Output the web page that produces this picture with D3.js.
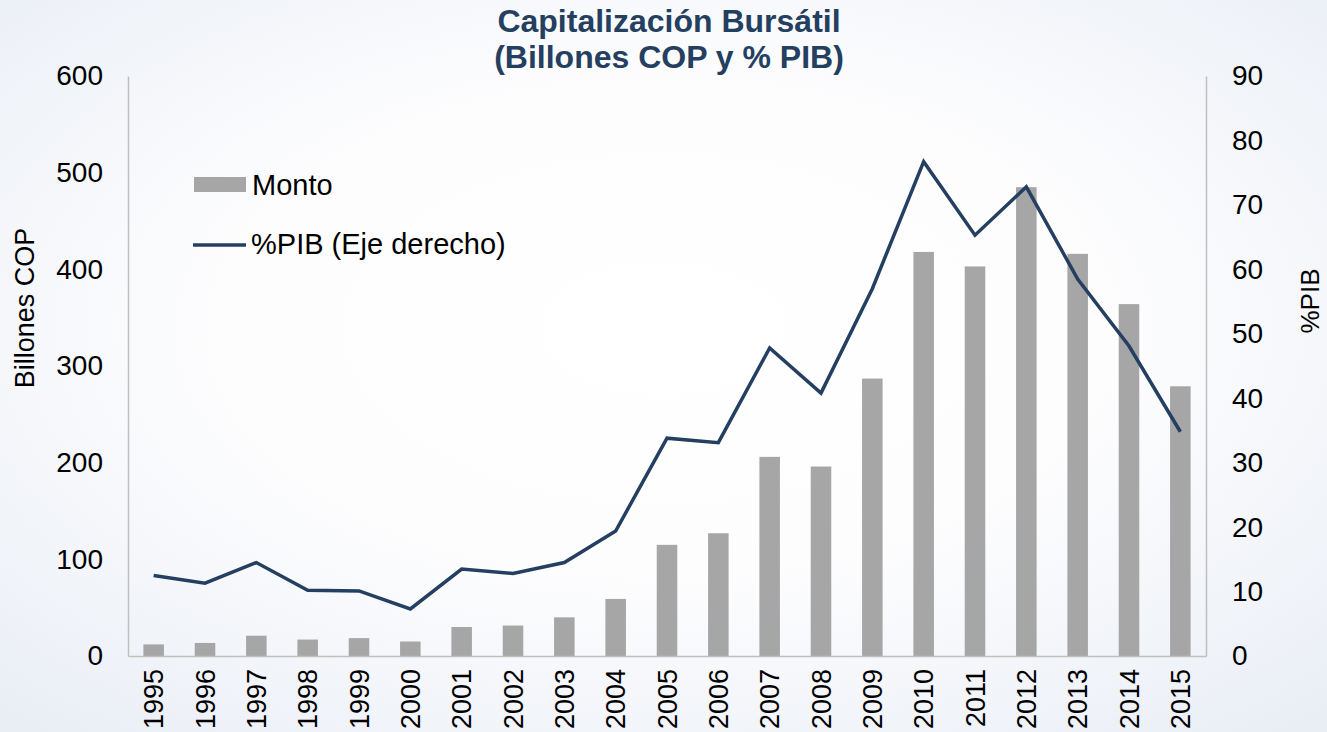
<!DOCTYPE html>
<html>
<head>
<meta charset="utf-8">
<script src="https://cdn.jsdelivr.net/npm/d3@7"></script>
<style>
  body { margin: 0; padding: 0; overflow: hidden; }
  svg text { font-family: "Liberation Sans", Arial, sans-serif; fill: #000; }
</style>
</head>
<body>
<svg id="chart"></svg>
<script>
var years = ['1995','1996','1997','1998','1999','2000','2001','2002','2003','2004','2005','2006','2007','2008','2009','2010','2011','2012','2013','2014','2015']
var monto = [12, 13.5, 21, 17, 18.5, 15, 30, 31.5, 40, 59, 115, 127, 206, 196, 287, 418, 403, 485, 416, 364, 279]
var pib = [12.5, 11.3, 14.5, 10.2, 10.1, 7.3, 13.5, 12.8, 14.5, 19.4, 33.8, 33.1, 47.8, 40.8, 57, 76.7, 65.3, 72.8, 58.5, 48.1, 34.8]
var leftTicks = [0, 100, 200, 300, 400, 500, 600]
var rightTicks = [0, 10, 20, 30, 40, 50, 60, 70, 80, 90]

var width = 1327, height = 732
var margin = {top: 76, right: 121, bottom: 76, left: 128},
   plotwidth = width - margin.left - margin.right,
   plotheight = height - margin.top - margin.bottom;

var navy = '#243f60'
var axisGray = '#bfbfbf'

var svg = d3.select('#chart')
	.attr('width', width)
	.attr('height', height)

// soft background
var grad = svg.append('defs').append('radialGradient')
	.attr('id', 'bg')
	.attr('cx', '50%').attr('cy', '45%').attr('r', '75%')
grad.append('stop').attr('offset', '0%').attr('stop-color', '#ffffff')
grad.append('stop').attr('offset', '45%').attr('stop-color', '#fdfdfe')
grad.append('stop').attr('offset', '100%').attr('stop-color', '#e8edf5')

svg.append('rect')
	.attr('width', width)
	.attr('height', height)
	.attr('fill', 'url(#bg)')

var g = svg.append('g')
	.attr('transform', 'translate(' + margin.left + ',' + margin.top + ')')

var x = d3.scaleBand()
	.domain(years)
	.range([0, plotwidth])
	.paddingInner(0.6)
	.paddingOuter(0.3)

var y = d3.scaleLinear()
	.domain([0, 600])
	.range([plotheight, 0])

var y2 = d3.scaleLinear()
	.domain([0, 90])
	.range([plotheight, 0])

// bars
g.append('g').selectAll('rect')
	.data(monto)
	.enter()
	.append('rect')
		.attr('x', (d, i) => x(years[i]))
		.attr('y', d => y(d))
		.attr('width', x.bandwidth())
		.attr('height', d => plotheight - y(d))
		.attr('fill', '#a6a6a6')

// axes
var leftAxis = g.append('g')
	.call(d3.axisLeft(y).tickValues(leftTicks).tickSize(0).tickPadding(25))
leftAxis.select('.domain').attr('stroke', axisGray).attr('stroke-width', 1.5)
leftAxis.selectAll('text').style('font-size', '28px').attr('fill', '#000')

var rightAxis = g.append('g')
	.attr('transform', 'translate(' + plotwidth + ',0)')
	.call(d3.axisRight(y2).tickValues(rightTicks).tickSize(0).tickPadding(26))
rightAxis.select('.domain').attr('stroke', axisGray).attr('stroke-width', 1.5)
rightAxis.selectAll('text').style('font-size', '28px').attr('fill', '#000')

var bottomAxis = g.append('g')
	.attr('transform', 'translate(0,' + plotheight + ')')
	.call(d3.axisBottom(x).tickSize(0).tickPadding(0).tickSizeOuter(0))
bottomAxis.select('.domain').attr('stroke', axisGray).attr('stroke-width', 1.5)
bottomAxis.selectAll('text')
	.style('font-size', '27px')
	.attr('fill', '#000')
	.attr('text-anchor', 'end')
	.attr('transform', 'rotate(-90)')
	.attr('x', -13)
	.attr('y', 0)
	.attr('dy', '0.36em')

// %PIB line
var line = d3.line()
	.x((d, i) => x(years[i]) + x.bandwidth() / 2)
	.y(d => y2(d))

g.append('path')
	.datum(pib)
	.attr('d', line)
	.attr('fill', 'none')
	.attr('stroke', navy)
	.attr('stroke-width', 3.5)
	.attr('stroke-linejoin', 'miter')

// title
var title = svg.append('text')
	.attr('x', 669)
	.attr('text-anchor', 'middle')
	.style('font-size', '32px')
	.style('font-weight', 'bold')
	.style('fill', navy)
title.append('tspan').attr('x', 669).attr('y', 32).text('Capitalización Bursátil')
title.append('tspan').attr('x', 669).attr('y', 68).text('(Billones COP y % PIB)')

// axis titles
svg.append('text')
	.attr('transform', 'translate(25,308) rotate(-90)')
	.attr('text-anchor', 'middle')
	.attr('dy', '0.35em')
	.style('font-size', '27px')
	.text('Billones COP')

svg.append('text')
	.attr('transform', 'translate(1310,301) rotate(-90)')
	.attr('text-anchor', 'middle')
	.attr('dy', '0.35em')
	.style('font-size', '26px')
	.text('%PIB')

// legend
var legend = svg.append('g')
legend.append('rect')
	.attr('x', 194).attr('y', 177)
	.attr('width', 52).attr('height', 15)
	.attr('fill', '#a6a6a6')
legend.append('text')
	.attr('x', 252).attr('y', 185)
	.attr('dy', '0.35em')
	.style('font-size', '29px')
	.text('Monto')
legend.append('line')
	.attr('x1', 193).attr('x2', 246)
	.attr('y1', 245).attr('y2', 245)
	.attr('stroke', navy)
	.attr('stroke-width', 3.5)
legend.append('text')
	.attr('x', 251).attr('y', 244)
	.attr('dy', '0.35em')
	.style('font-size', '29px')
	.text('%PIB (Eje derecho)')
</script>
</body>
</html>
